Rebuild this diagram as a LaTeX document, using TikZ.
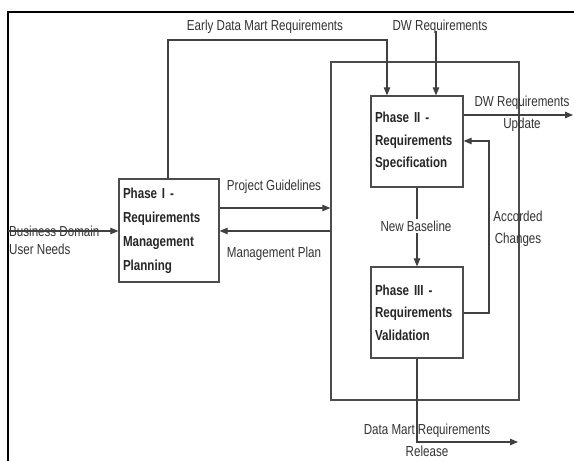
\documentclass[tikz,border=0pt]{standalone}
\usepackage{fontspec}
\setmainfont[FakeStretch=0.8]{Liberation Sans}
\usetikzlibrary{arrows.meta}

\begin{document}
\begin{tikzpicture}[x=1pt,y=-1pt,
  wire/.style={draw=black!75, line width=1.1pt},
  arr/.style={wire, -{Triangle[length=8pt,width=6.5pt]}},
  phase/.style={draw=black!70, line width=1.3pt, rectangle, align=left,
    inner xsep=4pt, inner ysep=0pt, text=black!85,
    font=\fontsize{14.5}{22.5}\selectfont\bfseries},
  lbl/.style={font=\fontsize{14.5}{22}\selectfont, text=black!80,
    inner sep=0pt, align=center},
  frame/.style={draw=black!70, line width=1.3pt, rectangle}
]
\useasboundingbox (0,0) rectangle (574,461);
\fill[white] (0,0) rectangle (574,461);

% outer border
\draw[line width=2.2pt] (8,461) -- (8,12) -- (574,12);

% container of phases II and III
\node[frame, minimum width=188pt, minimum height=338pt] (cont) at (425,231) {};

% phase boxes
\node[phase, minimum width=100pt, minimum height=103pt, text width=92pt,
  font=\fontsize{14.5}{24}\selectfont\bfseries] (p1) at (169,230.5)
  {Phase I -\\Requirements\\Management\\Planning};
\node[phase, minimum width=92pt, minimum height=91pt, text width=84pt] (p2) at (417,141.5)
  {Phase II -\\Requirements\\Specification};
\node[phase, minimum width=92pt, minimum height=91pt, text width=84pt] (p3) at (417,312.5)
  {Phase III -\\Requirements\\Validation};

% labels
\node[lbl] (lEarly) at (265,27) {Early Data Mart Requirements};
\node[lbl] (lDW) at (440,27) {DW Requirements};
\node[lbl] (lUpd) at (522,114) {DW Requirements\\Update};
\node[lbl] (lPG) at (274,187) {Project Guidelines};
\node[lbl] (lMP) at (274,254) {Management Plan};
\node[lbl, align=left, anchor=west, font=\fontsize{14.5}{18}\selectfont] (lBD) at (9,240)
  {Business Domain\\User Needs};
\node[lbl] (lAC) at (518,229) {Accorded\\Changes};
\node[lbl] (lRel) at (427,440) {Data Mart Requirements\\Release};

% connector anchor points
\coordinate (eL) at (168,40);
\coordinate (eR) at (387,40);
\coordinate (dwIn) at (436,31);
\coordinate (upd) at (573,115);
\coordinate (fb) at (489,0);
\coordinate (fbIn) at (0,141);
\coordinate (fbOut) at (0,313);
\coordinate (pg) at (0,208);
\coordinate (mp) at (0,231);
\coordinate (bd) at (8,231);
\coordinate (rel) at (518,442);

% connectors
\draw[arr] (eL |- p1.north) -- (eL) -- (eR) -- (eR |- p2.north);
\draw[arr] (dwIn) -- (dwIn |- p2.north);
\draw[arr] (p2.east |- upd) -- (upd);
\draw[arr] (p2.south) -- (p3.north);
\draw[arr] (p3.east |- fbOut) -- (fb |- fbOut) -- (fb |- fbIn) -- (p2.east |- fbIn);
\draw[arr] (p1.east |- pg) -- (cont.west |- pg);
\draw[arr] (cont.west |- mp) -- (p1.east |- mp);
\draw[arr] (bd) -- (p1.west |- bd);
\draw[arr] (p3.south) -- (p3.south |- rel) -- (rel);

% label drawn over the baseline connector
\node[lbl, fill=white, inner sep=2pt] (lNB) at (416,226) {New Baseline};
\end{tikzpicture}
\end{document}
